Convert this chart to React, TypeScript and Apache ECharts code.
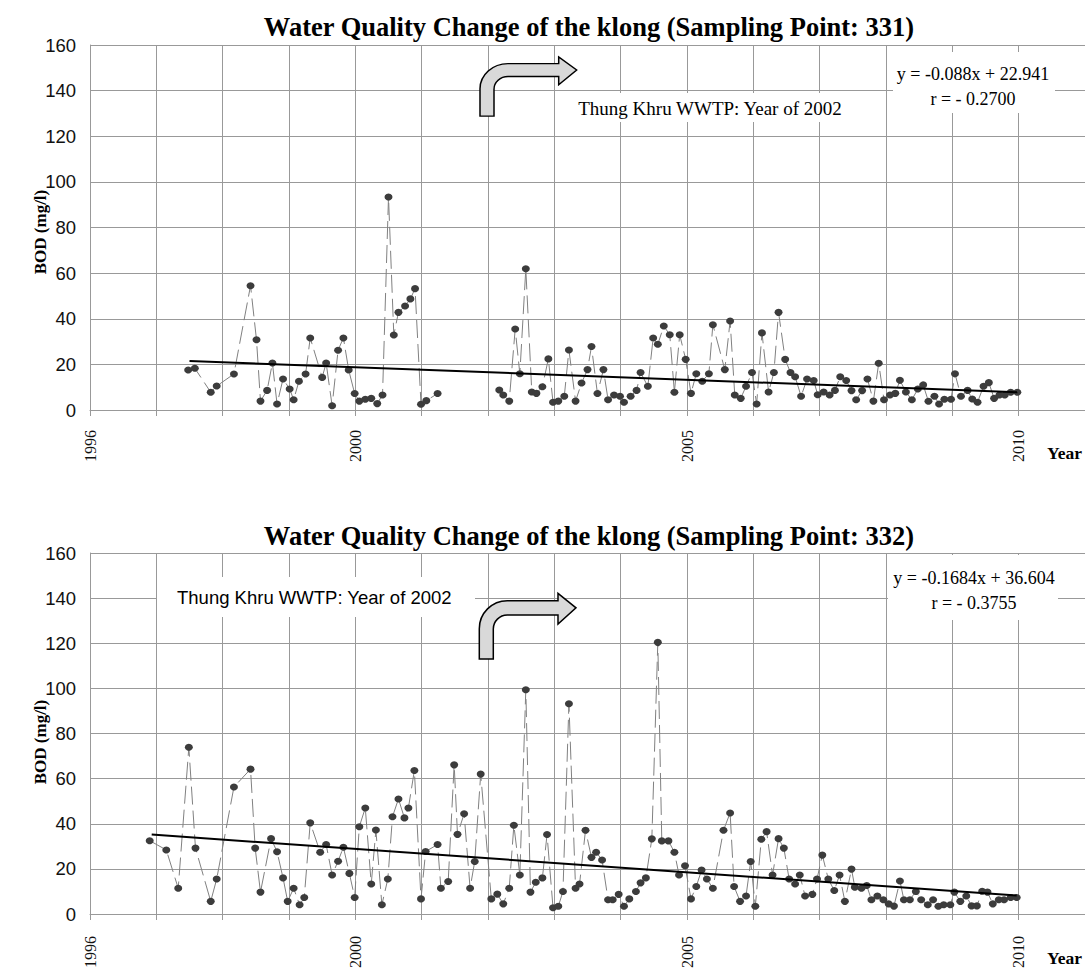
import React, { useEffect, useRef } from "react";
import * as echarts from "echarts";

// ---------- data ----------
const xLabelYears = [1996, 2000, 2005, 2010];
const yMin = 0;
const yMax = 160;
const yStep = 20;
const xMin = 1996;
const xMax = 2011;

const topTitle = "Water Quality Change of the klong (Sampling Point: 331)";
const bottomTitle = "Water Quality Change of the klong (Sampling Point: 332)";
const noteText = "Thung Khru WWTP: Year of 2002";
const topEquation = ["y = -0.088x + 22.941", "r = - 0.2700"];
const bottomEquation = ["y = -0.1684x + 36.604", "r = - 0.3755"];

const topYears = [
  1997.48, 1997.58, 1997.82, 1997.91, 1998.17, 1998.42, 1998.51, 1998.57, 1998.67, 1998.75,
  1998.82, 1998.91, 1999.01, 1999.07, 1999.15, 1999.25, 1999.32, 1999.5, 1999.56, 1999.65,
  1999.74, 1999.82, 1999.9, 1999.99, 2000.06, 2000.15, 2000.24, 2000.33, 2000.41, 2000.5,
  2000.58, 2000.65, 2000.75, 2000.83, 2000.9, 2000.99, 2001.07, 2001.24,
  2002.17, 2002.23, 2002.32, 2002.41, 2002.48, 2002.57, 2002.66, 2002.73, 2002.82, 2002.91,
  2002.98, 2003.06, 2003.15, 2003.22, 2003.32, 2003.41, 2003.5, 2003.56, 2003.65, 2003.74,
  2003.81, 2003.9, 2003.99, 2004.05, 2004.15, 2004.24, 2004.3, 2004.41, 2004.49, 2004.56,
  2004.65, 2004.74, 2004.81, 2004.89, 2004.98, 2005.06, 2005.14, 2005.23, 2005.33, 2005.39,
  2005.57, 2005.65, 2005.72, 2005.81, 2005.89, 2005.98, 2006.05, 2006.13, 2006.23, 2006.31,
  2006.38, 2006.48, 2006.56, 2006.63, 2006.72, 2006.81, 2006.91, 2006.97, 2007.06, 2007.15,
  2007.23, 2007.31, 2007.4, 2007.48, 2007.55, 2007.64, 2007.72, 2007.81, 2007.89, 2007.97,
  2008.06, 2008.14, 2008.21, 2008.3, 2008.39, 2008.48, 2008.56, 2008.64, 2008.73, 2008.8,
  2008.88, 2008.98, 2009.04, 2009.13, 2009.23, 2009.3, 2009.38, 2009.47, 2009.55, 2009.63,
  2009.71, 2009.79, 2009.88, 2009.98,
];
const topBod = [
  17.5, 18.3, 7.8, 10.5, 15.8, 54.5, 30.8, 3.9, 8.6, 20.6,
  2.6, 13.6, 9.2, 4.5, 12.6, 15.8, 31.6, 14.3, 20.6, 1.9,
  26.2, 31.6, 17.5, 7.2, 3.9, 4.7, 5.1, 2.8, 6.6, 93.4,
  32.9, 42.8, 45.6, 48.7, 53.2, 2.5, 4.1, 7.2,
  8.8, 6.6, 3.9, 35.5, 15.9, 61.9, 7.9, 7.3, 10.2, 22.4,
  3.4, 3.9, 6.0, 26.3, 3.9, 11.8, 17.7, 27.8, 7.2, 17.7,
  4.5, 6.6, 6.0, 3.4, 6.0, 8.6, 16.4, 10.4, 31.6, 28.8,
  36.8, 33.0, 7.8, 33.0, 22.2, 7.3, 15.9, 12.6, 15.9, 37.4,
  17.7, 39.0, 6.6, 5.1, 10.4, 16.4, 2.6, 33.8, 7.9, 16.4,
  42.8, 22.2, 16.4, 14.6, 6.0, 13.6, 12.9, 6.7, 7.9, 6.6,
  8.6, 14.6, 12.9, 8.5, 4.5, 8.5, 13.6, 3.9, 20.5, 4.5,
  6.6, 7.3, 13.0, 7.9, 4.5, 9.2, 11.0, 3.8, 6.0, 2.6,
  4.7, 4.7, 15.9, 6.0, 8.6, 4.8, 3.4, 10.4, 12.0, 5.1,
  6.6, 6.6, 7.8, 7.8,
];
const topTrendYears = [1997.5, 2009.98];
const topTrendBod = [21.5, 7.8];

const bottomYears = [
  1996.9, 1997.15, 1997.33, 1997.49, 1997.59, 1997.82, 1997.91, 1998.17, 1998.42, 1998.49,
  1998.57, 1998.73, 1998.82, 1998.91, 1998.98, 1999.07, 1999.16, 1999.23, 1999.32, 1999.47,
  1999.56, 1999.65, 1999.74, 1999.82, 1999.91, 1999.99, 2000.06, 2000.15, 2000.24, 2000.31,
  2000.4, 2000.49, 2000.56, 2000.65, 2000.74, 2000.8, 2000.89, 2000.99, 2001.06, 2001.24,
  2001.29, 2001.4, 2001.49, 2001.54, 2001.64, 2001.73, 2001.8, 2001.89, 2002.05, 2002.14,
  2002.23, 2002.32, 2002.39, 2002.48, 2002.57, 2002.64, 2002.72, 2002.82, 2002.89, 2002.98,
  2003.06, 2003.13, 2003.22, 2003.32, 2003.38, 2003.47, 2003.56, 2003.63, 2003.72, 2003.81,
  2003.88, 2003.97, 2004.05, 2004.13, 2004.23, 2004.3, 2004.38, 2004.47, 2004.56, 2004.62,
  2004.72, 2004.81, 2004.88, 2004.97, 2005.06, 2005.14, 2005.22, 2005.3, 2005.39, 2005.55,
  2005.65, 2005.71, 2005.8, 2005.89, 2005.96, 2006.03, 2006.12, 2006.2, 2006.29, 2006.38,
  2006.46, 2006.54, 2006.63, 2006.7, 2006.78, 2006.89, 2006.96, 2007.04, 2007.13, 2007.22,
  2007.3, 2007.38, 2007.48, 2007.53, 2007.63, 2007.71, 2007.78, 2007.87, 2007.96, 2008.04,
  2008.12, 2008.21, 2008.27, 2008.36, 2008.45, 2008.53, 2008.63, 2008.71, 2008.79, 2008.87,
  2008.97, 2009.03, 2009.12, 2009.21, 2009.29, 2009.37, 2009.45, 2009.53, 2009.61, 2009.7,
  2009.78, 2009.88, 2009.97,
];
const bottomBod = [
  32.5, 28.4, 11.4, 73.9, 29.2, 5.6, 15.5, 56.3, 64.2, 29.2,
  9.7, 33.4, 27.6, 16.0, 5.6, 11.4, 4.1, 7.3, 40.4, 27.4,
  30.8, 17.3, 23.4, 29.6, 18.0, 7.3, 38.7, 47.0, 13.3, 37.2,
  4.1, 15.5, 43.1, 51.0, 42.6, 47.0, 63.6, 6.7, 27.7, 30.8,
  11.4, 14.4, 66.1, 35.3, 44.4, 11.4, 23.3, 62.0, 6.7, 8.8,
  4.5, 11.4, 39.3, 17.3, 99.4, 9.7, 14.1, 16.0, 35.2, 2.8,
  3.4, 10.0, 93.2, 11.4, 13.3, 37.1, 25.1, 27.4, 23.9, 6.3,
  6.3, 8.7, 3.4, 6.7, 10.0, 13.8, 16.0, 33.3, 120.4, 32.4,
  32.4, 27.4, 17.3, 21.4, 6.7, 12.2, 19.5, 15.5, 11.4, 37.1,
  44.8, 12.2, 5.6, 8.0, 23.3, 3.4, 33.1, 36.5, 17.3, 33.4,
  29.2, 15.5, 13.3, 17.3, 8.0, 8.7, 15.5, 26.1, 15.5, 10.4,
  17.3, 5.6, 19.9, 11.9, 11.4, 12.6, 6.3, 8.0, 6.3, 4.5,
  3.5, 14.6, 6.3, 6.3, 10.0, 6.3, 4.1, 6.3, 3.4, 4.1,
  4.1, 9.7, 5.6, 8.0, 3.6, 3.6, 10.1, 9.7, 4.5, 6.3,
  6.3, 7.3, 7.3,
];
const bottomTrendYears = [1996.93, 2009.97];
const bottomTrendBod = [35.2, 8.2];

// ---------- helpers ----------
function pairsWithGaps(xs: number[], ys: number[]) {
  const out: any[] = [];
  for (let i = 0; i < xs.length; i++) {
    if (i > 0 && xs[i] - xs[i - 1] > 0.5) out.push([(xs[i] + xs[i - 1]) / 2, "-"]);
    out.push([xs[i], ys[i]]);
  }
  return out;
}
function pairs(xs: number[], ys: number[]) {
  return xs.map((x, i) => [x, ys[i]]);
}

const ARROW_D =
  "M0 65.7 L0 35.4 C0 19.94 12.54 7.4 28 7.4 L78.7 7.4 L78.7 0 L96.7 14.5 L78.7 30.7 L78.7 21.7 L28 21.7 C20.27 21.7 14 27.97 14 35.7 L14 65.7 Z";

let registered = false;
function ensureShape() {
  if (registered) return;
  registered = true;
  echarts.graphic.registerShape("bentArrow", echarts.graphic.extendPath(ARROW_D, {}) as any);
}

const GRID_COLOR = "#999999";
const SERIF = "'Liberation Serif', 'Times New Roman', serif";
const SANS = "'Liberation Sans', Arial, sans-serif";

function xAxisDef(gridIndex: number, margin: number) {
  return {
    type: "value",
    gridIndex,
    min: xMin,
    max: xMax,
    interval: 1,
    axisLine: { show: true, onZero: false, lineStyle: { color: GRID_COLOR, width: 1 } },
    axisTick: { show: true, length: 6, lineStyle: { color: GRID_COLOR, width: 1 } },
    splitLine: { show: true, lineStyle: { color: GRID_COLOR, width: 1 } },
    axisLabel: {
      rotate: 90,
      margin,
      fontFamily: SERIF,
      fontSize: 16,
      color: "#111",
      showMaxLabel: false,
      formatter: (v: number) => (xLabelYears.includes(Math.round(v)) ? String(Math.round(v)) : ""),
    },
  };
}
function yAxisDef(gridIndex: number) {
  return {
    type: "value",
    gridIndex,
    min: yMin,
    max: yMax,
    interval: yStep,
    axisLine: { show: true, lineStyle: { color: GRID_COLOR, width: 1 } },
    axisTick: { show: false },
    splitLine: { show: true, lineStyle: { color: GRID_COLOR, width: 1 } },
    axisLabel: { margin: 14, fontFamily: SANS, fontSize: 18.5, color: "#111" },
  };
}
function dataSeries(idx: number, data: any[]) {
  return {
    type: "line",
    xAxisIndex: idx,
    yAxisIndex: idx,
    data,
    connectNulls: false,
    symbol: "circle",
    symbolSize: [8, 7],
    itemStyle: { color: "#3c3c3c" },
    lineStyle: { color: "#808080", width: 1, type: [18, 6] },
    z: 3,
  };
}
function trendSeries(idx: number, data: any[]) {
  return {
    type: "line",
    xAxisIndex: idx,
    yAxisIndex: idx,
    data,
    symbol: "none",
    lineStyle: { color: "#000", width: 2 },
    z: 4,
  };
}

function textEl(text: string, x: number, y: number, font: string, size: number, bold: boolean, align = "center", rotation = 0) {
  return {
    type: "text",
    x,
    y,
    rotation,
    z: 20,
    style: {
      text,
      fill: "#000",
      font: `${bold ? "bold " : ""}${size}px ${font}`,
      align,
      verticalAlign: "middle",
    },
  };
}
function boxEl(x: number, y: number, w: number, h: number) {
  return { type: "rect", z: 15, shape: { x, y, width: w, height: h }, style: { fill: "#fff" } };
}
function arrowEl(x: number, y: number, sy = 1) {
  return {
    type: "bentArrow",
    x,
    y,
    scaleY: sy,
    z: 16,
    style: { fill: "#d9d9d9", stroke: "#000", lineWidth: 1.5, strokeNoScale: true },
  };
}

export default function App() {
  const ref = useRef<HTMLDivElement>(null);
  useEffect(() => {
    if (!ref.current) return;
    ensureShape();
    const chart = echarts.init(ref.current, undefined, { renderer: "svg" });
    const option: any = {
      animation: false,
      backgroundColor: "#fff",
      grid: [
        { left: 90, top: 45, width: 996, height: 365, containLabel: false },
        { left: 90, top: 553, width: 996, height: 364, containLabel: false },
      ],
      xAxis: [xAxisDef(0, 20), xAxisDef(1, 22)],
      yAxis: [yAxisDef(0), yAxisDef(1)],
      series: [
        dataSeries(0, pairsWithGaps(topYears, topBod)),
        trendSeries(0, pairs(topTrendYears, topTrendBod)),
        dataSeries(1, pairsWithGaps(bottomYears, bottomBod)),
        trendSeries(1, pairs(bottomTrendYears, bottomTrendBod)),
      ],
      graphic: [
        textEl(topTitle, 589, 27, SERIF, 26.5, true),
        textEl(bottomTitle, 589, 536, SERIF, 26.5, true),
        textEl("BOD (mg/l)", 40, 232, SERIF, 17, true, "center", Math.PI / 2),
        textEl("BOD (mg/l)", 40, 742, SERIF, 17, true, "center", Math.PI / 2),
        textEl("Year", 1047, 453, SERIF, 17.5, true, "left"),
        textEl("Year", 1047, 958, SERIF, 17.5, true, "left"),
        // top annotations
        boxEl(560, 93, 300, 29),
        textEl(noteText, 710, 108, SERIF, 19, false),
        arrowEl(480, 57, 0.9),
        boxEl(893, 52, 162, 61),
        textEl(topEquation[0], 973, 74, SERIF, 18, false),
        textEl(topEquation[1], 973, 99, SERIF, 18, false),
        // bottom annotations
        boxEl(157, 577, 318, 40),
        textEl(noteText, 177, 597, SANS, 18.5, false, "left"),
        arrowEl(479.3, 593.3),
        boxEl(888, 555, 170, 65),
        textEl(bottomEquation[0], 974, 578, SERIF, 18, false),
        textEl(bottomEquation[1], 974, 603, SERIF, 18, false),
      ],
    };
    chart.setOption(option);
    return () => chart.dispose();
  }, []);
  return (
    <div
      ref={ref}
      style={{ position: "fixed", left: 0, top: 0, width: 1085, height: 971, background: "#fff" }}
    />
  );
}
